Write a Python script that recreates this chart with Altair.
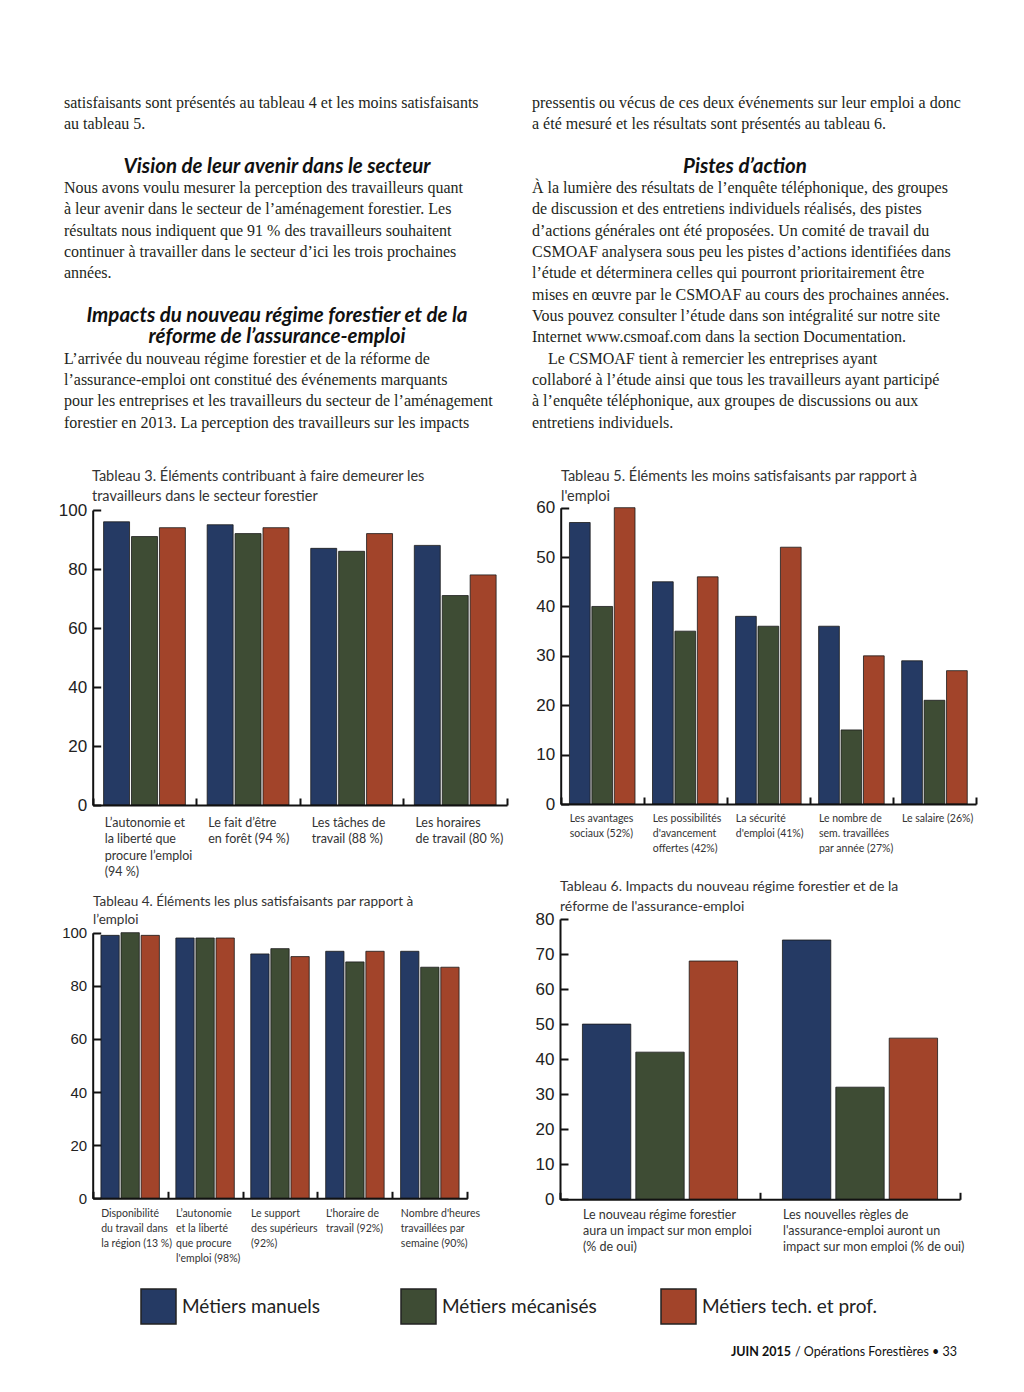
import altair as alt
import pandas as pd

W, H = 1008, 1376   # drawing area (page minus 8px margins)
M = 8               # page margin: page coords -> chart coords

# ---------------- data ----------------
series = ["Métiers manuels", "Métiers mécanisés", "Métiers tech. et prof."]
colors = ["#253a64", "#3e4c34", "#a2442a"]

t3_title = ["Tableau 3. Éléments contribuant à faire demeurer les",
            "travailleurs dans le secteur forestier"]
t3_cats = ["L’autonomie et|la liberté que|procure l’emploi|(94 %)",
           "Le fait d’être|en forêt (94 %)",
           "Les tâches de|travail (88 %)",
           "Les horaires|de travail (80 %)"]
t3_manuels = [96, 95, 87, 88]
t3_mecanises = [91, 92, 86, 71]
t3_tech = [94, 94, 92, 78]
t3_ticks = [0, 20, 40, 60, 80, 100]

t5_title = ["Tableau 5. Éléments les moins satisfaisants par rapport à",
            "l'emploi"]
t5_cats = ["Les avantages|sociaux (52%)",
           "Les possibilités|d'avancement|offertes (42%)",
           "La sécurité|d'emploi (41%)",
           "Le nombre de|sem. travaillées|par année (27%)",
           "Le salaire (26%)"]
t5_manuels = [57, 45, 38, 36, 29]
t5_mecanises = [40, 35, 36, 15, 21]
t5_tech = [60, 46, 52, 30, 27]
t5_ticks = [0, 10, 20, 30, 40, 50, 60]

t4_title = ["Tableau 4. Éléments les plus satisfaisants par rapport à",
            "l’emploi"]
t4_cats = ["Disponibilité|du travail dans|la région (13 %)",
           "L’autonomie|et la liberté|que procure|l'emploi (98%)",
           "Le support|des supérieurs|(92%)",
           "L'horaire de|travail (92%)",
           "Nombre d'heures|travaillées par|semaine (90%)"]
t4_manuels = [99, 98, 92, 93, 93]
t4_mecanises = [100, 98, 94, 89, 87]
t4_tech = [99, 98, 91, 93, 87]
t4_ticks = [0, 20, 40, 60, 80, 100]

t6_title = ["Tableau 6. Impacts du nouveau régime forestier et de la",
            "réforme de l'assurance-emploi"]
t6_cats = ["Le nouveau régime forestier|aura un impact sur mon emploi|(% de oui)",
           "Les nouvelles règles de|l'assurance-emploi auront un|impact sur mon emploi (% de oui)"]
t6_manuels = [50, 74]
t6_mecanises = [42, 32]
t6_tech = [68, 46]
t6_ticks = [0, 10, 20, 30, 40, 50, 60, 70, 80]

left_top = ["satisfaisants sont présentés au tableau 4 et les moins satisfaisants",
            "au tableau 5."]
left_head1 = ["Vision de leur avenir dans le secteur"]
left_par1 = ["Nous avons voulu mesurer la perception des travailleurs quant",
             "à leur avenir dans le secteur de l’aménagement forestier. Les",
             "résultats nous indiquent que 91 % des travailleurs souhaitent",
             "continuer à travailler dans le secteur d’ici les trois prochaines",
             "années."]
left_head2 = ["Impacts du nouveau régime forestier et de la",
              "réforme de l’assurance-emploi"]
left_par2 = ["L’arrivée du nouveau régime forestier et de la réforme de",
             "l’assurance-emploi ont constitué des événements marquants",
             "pour les entreprises et les travailleurs du secteur de l’aménagement",
             "forestier en 2013. La perception des travailleurs sur les impacts"]

right_top = ["pressentis ou vécus de ces deux événements sur leur emploi a donc",
             "a été mesuré et les résultats sont présentés au tableau 6."]
right_head = ["Pistes d’action"]
right_par1 = ["À la lumière des résultats de l’enquête téléphonique, des groupes",
              "de discussion et des entretiens individuels réalisés, des pistes",
              "d’actions générales ont été proposées. Un comité de travail du",
              "CSMOAF analysera sous peu les pistes d’actions identifiées dans",
              "l’étude et déterminera celles qui pourront prioritairement être",
              "mises en œuvre par le CSMOAF au cours des prochaines années.",
              "Vous pouvez consulter l’étude dans son intégralité sur notre site",
              "Internet www.csmoaf.com dans la section Documentation."]
right_par2 = ["Le CSMOAF tient à remercier les entreprises ayant",
              "collaboré à l’étude ainsi que tous les travailleurs ayant participé",
              "à l’enquête téléphonique, aux groupes de discussions ou aux",
              "entretiens individuels."]

footer_bold = ["JUIN 2015"]
footer_rest = ["/ Opérations Forestières • 33"]

# ---------------- helpers ----------------
LEGEND = alt.Legend(orient="none", legendX=140 - M, legendY=1288 - M,
                    direction="horizontal", columns=3, gridAlign="all",
                    columnPadding=41, symbolType="square", symbolSize=1225,
                    symbolStrokeColor="#222", symbolStrokeWidth=1.5,
                    symbolOpacity=1, labelFont="Lato", labelFontSize=19,
                    labelColor="#222", labelOffset=5, labelLimit=400,
                    title=None, padding=0)


def panel(cats, vals, ymax, yticks, xr, yr, inner, outer, lab_off, lab_pad,
          lab_size, lab_lh, ylab_size):
    rows = []
    for i, c in enumerate(cats):
        for s, v in zip(series, vals):
            rows.append({"cat": c, "serie": s, "val": v[i]})
    df = pd.DataFrame(rows)
    x0, x1 = xr[0] - M, xr[1] - M
    y0, y1 = yr[0] - M, yr[1] - M
    xs = alt.Scale(range=[x0, x1], paddingInner=0, paddingOuter=0)
    ys = alt.Scale(domain=[0, ymax], range=[y0, y1], nice=False, zero=True)
    xo = alt.XOffset("serie:N", sort=series,
                     scale=alt.Scale(paddingInner=inner, paddingOuter=outer))

    bars = alt.Chart(df).mark_bar(stroke="#1a1a1a", strokeWidth=0.8).encode(
        x=alt.X("cat:N", sort=cats, scale=xs,
                axis=alt.Axis(orient="top", offset=-y0, labels=False, ticks=True,
                              tickBand="extent", tickSize=7, tickWidth=2,
                              tickColor="#111", domainColor="#111", domainWidth=2,
                              title=None, grid=False, zindex=1)),
        xOffset=xo,
        y=alt.Y("val:Q", scale=ys,
                axis=alt.Axis(orient="left", offset=-x0, values=yticks, ticks=False,
                              tickSize=0, labelPadding=6, labelFont="Liberation Sans",
                              labelFontSize=ylab_size, labelColor="#222",
                              domainColor="#111", domainWidth=2, title=None,
                              grid=False, zindex=1)),
        color=alt.Color("serie:N", scale=alt.Scale(domain=series, range=colors),
                        legend=LEGEND),
    )
    helper = alt.Chart(df).mark_bar(opacity=0).encode(
        x=alt.X("cat:N", sort=cats, scale=xs,
                axis=alt.Axis(orient="bottom", offset=y0 - H, labels=True,
                              ticks=False, tickSize=0, domain=False,
                              labelAngle=0, labelAlign="left", labelBaseline="top",
                              labelOffset=lab_off, labelPadding=lab_pad,
                              labelExpr="split(datum.label, '|')",
                              labelFont="Lato", labelFontSize=lab_size,
                              labelLineHeight=lab_lh, labelColor="#333",
                              labelOverlap=False, labelLimit=400,
                              title=None, grid=False)),
        xOffset=xo,
        y=alt.Y("val:Q", scale=ys,
                axis=alt.Axis(orient="right", offset=x0 - W, values=yticks,
                              ticks=True, tickSize=8, tickWidth=2, tickColor="#111",
                              labels=False, domain=False, title=None, grid=False,
                              zindex=1)),
    )
    return alt.layer(bars, helper).resolve_axis(x="independent", y="independent")


def text_layer(lines, xs, ys, font, size, align="left", weight="normal",
               style="normal", color="#231f20"):
    df = pd.DataFrame({"text": lines,
                       "px": [x - M for x in xs],
                       "py": [y - M for y in ys]})
    return alt.Chart(df).mark_text(align=align, baseline="middle", font=font,
                                   fontSize=size, fontWeight=weight,
                                   fontStyle=style, color=color).encode(
        x=alt.X("px:Q", scale=None, axis=None),
        y=alt.Y("py:Q", scale=None, axis=None),
        text="text:N")


# ---------------- bar panels ----------------
p3 = panel(t3_cats, [t3_manuels, t3_mecanises, t3_tech], 100, t3_ticks,
           (92.7, 507), (805, 510), 0.07, 0.39, -39.8, 11, 12.5, 16.5, 17)
p5 = panel(t5_cats, [t5_manuels, t5_mecanises, t5_tech], 60, t5_ticks,
           (560.7, 976), (804, 507.7), 0.076, 0.39, -32.5, 9, 10.5, 15, 17)
p4 = panel(t4_cats, [t4_manuels, t4_mecanises, t4_tech], 100, t4_ticks,
           (92.7, 467.3), (1198.3, 932.7), 0.09, 0.41, -29, 10, 10.5, 15, 15)
p6 = panel(t6_cats, [t6_manuels, t6_mecanises, t6_tech], 80, t6_ticks,
           (560, 960), (1199.3, 919), 0.094, 0.42, -77, 9, 12.5, 16, 17)

# ---------------- text ----------------
LH = 21.35
Y0 = 102.5


def slots(start, n):
    return [Y0 + (start + k) * LH for k in range(n)]


SERIF = "Liberation Serif"
BODY = 16
HEAD = 20.5
texts = [
    text_layer(left_top, [64] * 2, slots(0, 2), SERIF, BODY),
    text_layer(left_head1, [277], slots(3, 1), "Lato", HEAD, "center", "bold", "italic", "#111"),
    text_layer(left_par1, [64] * 5, slots(4, 5), SERIF, BODY),
    text_layer(left_head2, [277] * 2, slots(10, 2), "Lato", HEAD, "center", "bold", "italic", "#111"),
    text_layer(left_par2, [64] * 4, slots(12, 4), SERIF, BODY),
    text_layer(right_top, [532] * 2, slots(0, 2), SERIF, BODY),
    text_layer(right_head, [745], slots(3, 1), "Lato", HEAD, "center", "bold", "italic", "#111"),
    text_layer(right_par1, [532] * 8, slots(4, 8), SERIF, BODY),
    text_layer(right_par2, [548] + [532] * 3, slots(12, 4), SERIF, BODY),
    text_layer(t3_title, [92, 92], [477, 497], "Lato", 14.5, color="#333"),
    text_layer(t5_title, [561, 561], [477, 497], "Lato", 14.5, color="#333"),
    text_layer(t4_title, [93, 93], [902, 920], "Lato", 13.5, color="#333"),
    text_layer(t6_title, [560, 560], [887, 907], "Lato", 14, color="#333"),
    text_layer(footer_bold, [791], [1352], "Lato", 12.5, "right", "bold", color="#111"),
    text_layer(footer_rest, [795], [1352], "Lato", 12.5, color="#111"),
]

chart = alt.layer(p3, p5, p4, p6, *texts).resolve_scale(
    x="independent", y="independent", xOffset="independent"
).properties(width=W, height=H, autosize="none", padding=0,
             background="white").configure_view(stroke=None)

chart.save("out.html", embed_options={"renderer": "svg", "actions": False})
